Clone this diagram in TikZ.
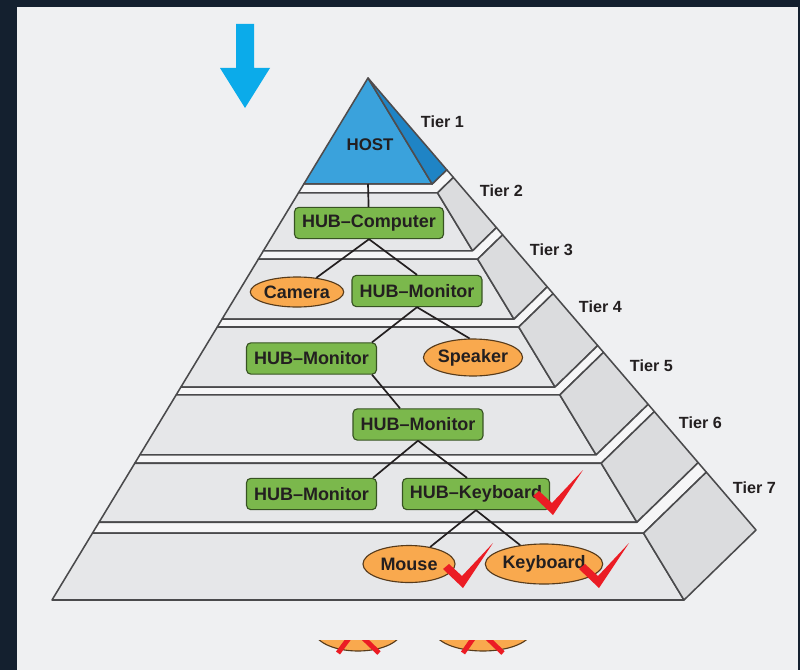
\documentclass[tikz,border=0pt]{standalone}
\usepackage{fontspec}
\setmainfont{Liberation Sans}
\usetikzlibrary{calc,shapes.geometric}

\definecolor{frameNavy}{HTML}{14202F}
\definecolor{panelGray}{HTML}{EFF0F2}
\definecolor{faceGray}{HTML}{E6E7E9}
\definecolor{sideGray}{HTML}{DBDCDE}
\definecolor{stripGray}{HTML}{F6F6F7}
\definecolor{edgeGray}{HTML}{4A4A4C}
\definecolor{hostBlue}{HTML}{3AA2DC}
\definecolor{hostShade}{HTML}{1F84C5}
\definecolor{hubGreen}{HTML}{7BB84C}
\definecolor{devOrange}{HTML}{F9A94E}
\definecolor{checkRed}{HTML}{EB1C24}
\definecolor{arrowBlue}{HTML}{0BABEA}
\definecolor{inkDark}{HTML}{231F20}

\begin{document}
\begin{tikzpicture}
  [x=0.025cm,y=-0.025cm,
  face/.style={draw=edgeGray,line width=1.1pt,line join=round,fill=faceGray},
  side/.style={face,fill=sideGray},
  strip/.style={face,fill=stripGray},
  hub/.style={rectangle,rounded corners=3pt,draw=hubGreen!45!black,line width=0.8pt,
    fill=hubGreen,text=inkDark,font=\bfseries\fontsize{12.8}{15}\selectfont,
    inner xsep=5.3pt,minimum height=0.78cm},
  dev/.style={ellipse,draw=devOrange!35!black,line width=0.8pt,fill=devOrange,
    text=inkDark,font=\bfseries\fontsize{12.8}{15}\selectfont,inner sep=0pt},
  tierlab/.style={anchor=west,text=inkDark,font=\bfseries\fontsize{11.5}{14}\selectfont},
  link/.style={draw=inkDark,line width=1.2pt},
  okmark/.pic={\fill[checkRed] (-19,-18) -- (-13,-23) -- (0,-11) -- (31,-44) -- (1,1) -- cycle;}]

  \fill[frameNavy] (0,0) rectangle (800,670);
  \fill[panelGray] (17,7) rectangle (798,670);

  % arrow
  \fill[arrowBlue] (236,24) -- (254,24) -- (254,68) -- (270,68) -- (245,108)
    -- (220,68) -- (236,68) -- cycle;

  \coordinate (apex) at (368,78);
  \coordinate (fl) at (52,600);
  \coordinate (fr) at (684,600);
  \coordinate (br) at (756,530);

  \foreach \up/\tp/\bt in {0.203/0.220/0.331,0.331/0.347/0.462,0.462/0.477/0.592,
      0.592/0.607/0.722,0.722/0.738/0.851,0.851/0.872/1.000} {
    \filldraw[strip] ($(apex)!\up!(fl)$) -- ($(apex)!\up!(fr)$) -- ($(apex)!\up!(br)$)
      -- ($(apex)!\tp!(br)$) -- ($(apex)!\tp!(fr)$) -- ($(apex)!\tp!(fl)$) -- cycle;
    \filldraw[face] ($(apex)!\tp!(fl)$) -- ($(apex)!\tp!(fr)$)
      -- ($(apex)!\bt!(fr)$) -- ($(apex)!\bt!(fl)$) -- cycle;
    \filldraw[side] ($(apex)!\tp!(fr)$) -- ($(apex)!\tp!(br)$)
      -- ($(apex)!\bt!(br)$) -- ($(apex)!\bt!(fr)$) -- cycle;
  }

  % host
  \filldraw[face,fill=hostBlue,draw=inkDark!80] (apex) -- ($(apex)!0.203!(fl)$)
    -- ($(apex)!0.203!(fr)$) -- cycle;
  \filldraw[face,fill=hostShade,draw=inkDark!80] (apex) -- ($(apex)!0.203!(fr)$)
    -- ($(apex)!0.203!(br)$) -- cycle;
  \node[text=inkDark,font=\bfseries\fontsize{12}{15}\selectfont] (host) at (370,145) {HOST};
  \coordinate (hostbase) at (368,184);

  \node[tierlab] (tier1) at (416,122) {Tier 1};
  \node[tierlab] (tier2) at (475,191) {Tier 2};
  \node[tierlab] (tier3) at (525,250) {Tier 3};
  \node[tierlab] (tier4) at (574,307) {Tier 4};
  \node[tierlab] (tier5) at (625,366) {Tier 5};
  \node[tierlab] (tier6) at (674,423) {Tier 6};
  \node[tierlab] (tier7) at (728,488) {Tier 7};

  \node[hub] (hubcomp) at (369,223) {HUB--Computer};
  \node[dev,minimum width=2.275cm,minimum height=0.75cm] (cam) at (297,292) {Camera};
  \node[hub] (hubmon1) at (417,291) {HUB--Monitor};
  \node[hub] (hubmon2) at (311.5,358.5) {HUB--Monitor};
  \node[dev,minimum width=2.25cm,minimum height=0.925cm] (spk) at (473,357.5) {Speaker};
  \node[hub] (hubmon3) at (418,424.5) {HUB--Monitor};
  \node[hub] (hubmon4) at (311.5,494) {HUB--Monitor};
  \node[hub] (hubkbd) at (476,494) {HUB--Keyboard};
  \node[dev,minimum width=2.3cm,minimum height=0.925cm] (mouse) at (409,564) {Mouse};
  \node[dev,minimum width=2.425cm,minimum height=1cm] (kbd) at (544,564) {Keyboard};

  \draw[link] (hostbase) -- (hubcomp);
  \draw[link] (hubcomp.south) -- (cam);
  \draw[link] (hubcomp.south) -- (hubmon1.north);
  \draw[link] (hubmon1.south) -- ($(hubmon2.north east)+(-5,0)$);
  \draw[link] (hubmon1.south) -- (spk.100);
  \draw[link] ($(hubmon2.south east)+(-5,0)$) -- ($(hubmon3.north)+(-18,0)$);
  \draw[link] (hubmon3.south) -- ($(hubmon4.north east)+(-4,0)$);
  \draw[link] (hubmon3.south) -- ($(hubkbd.north)+(-9,0)$);
  \draw[link] (hubkbd.south) -- (mouse);
  \draw[link] (hubkbd.south) -- (kbd);

  \pic at (552,514) {okmark};
  \pic at (462,587) {okmark};
  \pic at (598,587) {okmark};

  % cut-off row below
  \begin{scope}
    \clip (17,640) rectangle (798,670);
    \filldraw[fill=devOrange,draw=devOrange!35!black,line width=0.8pt]
      (358,630) ellipse [x radius=44,y radius=21];
    \filldraw[fill=devOrange,draw=devOrange!35!black,line width=0.8pt]
      (483,630) ellipse [x radius=49,y radius=21];
    \draw[checkRed,line width=3.5pt] (355,630) -- (338,653) (355,630) -- (379,653);
    \draw[checkRed,line width=3.5pt] (479,630) -- (463,653) (479,630) -- (503,653);
  \end{scope}
\end{tikzpicture}
\end{document}
